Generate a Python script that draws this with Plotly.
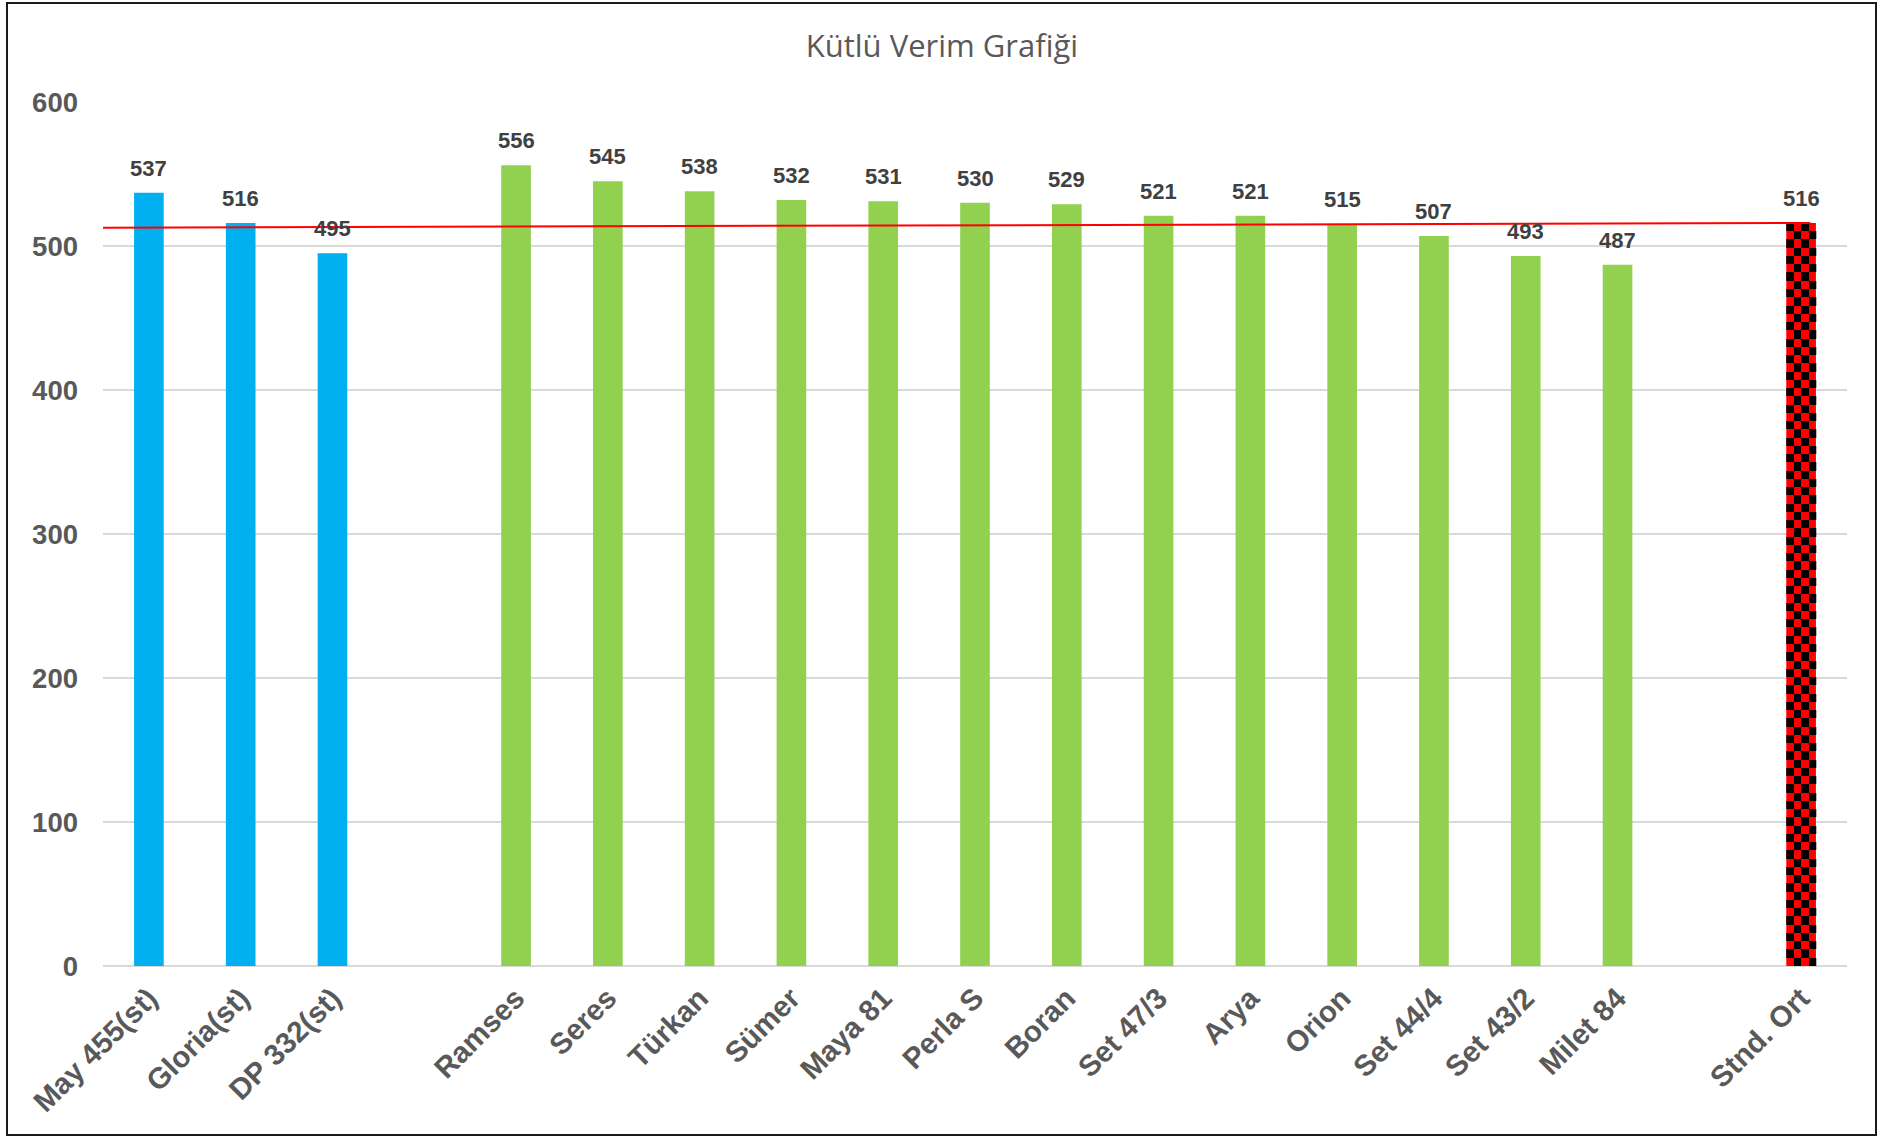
import numpy as np
import plotly.graph_objects as go

# ---------------- data ----------------
categories = ["May 455(st)", "Gloria(st)", "DP 332(st)", " ",
              "Ramses", "Seres", "Türkan", "Sümer", "Maya 81", "Perla S",
              "Boran", "Set 47/3", "Arya", "Orion", "Set 44/4", "Set 43/2",
              "Milet 84", "  ", "Stnd. Ort"]
standard_names = ["May 455(st)", "Gloria(st)", "DP 332(st)"]
standard_values = [537, 516, 495]
variety_names = ["Ramses", "Seres", "Türkan", "Sümer", "Maya 81", "Perla S",
                 "Boran", "Set 47/3", "Arya", "Orion", "Set 44/4", "Set 43/2",
                 "Milet 84"]
variety_values = [556, 545, 538, 532, 531, 530, 529, 521, 521, 515, 507, 493, 487]
average_name = ["Stnd. Ort"]
average_value = [516]
trend_values = [512.7, 516.0]   # red reference line (left end, right end)
y_ticks = [0, 100, 200, 300, 400, 500, 600]

title_text = "Kütlü Verim Grafiği"

# ---------------- styles ----------------
BLUE = "#00B0F0"
GREEN = "#92D050"
RED = "#FF0000"
GRID = "#D9D9D9"
TICK_GRAY = "#595959"
LABEL_GRAY = "#404040"
FONT = "Liberation Sans, Arial, sans-serif"
BARGAP = 0.677

fig = go.Figure()
fig.add_trace(go.Bar(x=standard_names, y=standard_values, marker_color=BLUE,
                     marker_line_width=0, name="Standart"))
fig.add_trace(go.Bar(x=variety_names, y=variety_values, marker_color=GREEN,
                     marker_line_width=0, name="Çeşit"))
fig.add_trace(go.Bar(x=average_name, y=average_value, marker_color=RED,
                     marker_line_width=0, name="Stnd. Ort"))

# checkered overlay for the average bar (black squares over the red bar)
n_cat = len(categories)
avg_idx = categories.index(average_name[0])
bar_w = 1 - BARGAP
ncols = 4
cell_units = 5.75
nrows = int(round(average_value[0] / cell_units))
x_edges = np.linspace(avg_idx - bar_w / 2, avg_idx + bar_w / 2, ncols + 1)
y_edges = np.linspace(average_value[0], 0, nrows + 1)
z = [[(r + c + 1) % 2 for c in range(ncols)] for r in range(nrows)]
fig.add_trace(go.Heatmap(x=x_edges, y=y_edges, z=z, xaxis="x2", yaxis="y",
                         colorscale=[[0, "rgba(0,0,0,0)"], [1, "#000000"]],
                         zmin=0, zmax=1, showscale=False, zsmooth=False,
                         hoverinfo="skip"))

# data labels
all_names = standard_names + variety_names + average_name
all_values = standard_values + variety_values + average_value
for name, val in zip(all_names, all_values):
    fig.add_annotation(x=name, y=val, text=str(val), showarrow=False,
                       yanchor="bottom", yshift=10,
                       font=dict(family=FONT, size=22, color=LABEL_GRAY, weight=700))

# red reference line
fig.add_shape(type="line", xref="x", yref="y",
              x0=-0.5 - 15 / 91.8, x1=avg_idx + 0.1,
              y0=trend_values[0], y1=trend_values[1],
              line=dict(color=RED, width=2))

# outer border
fig.add_shape(type="rect", xref="paper", yref="paper",
              x0=(7 - 103) / 1744, x1=(1876 - 103) / 1744,
              y0=(966 - 1135) / 864, y1=(966 - 3) / 864,
              line=dict(color="#1a1a1a", width=2), fillcolor="rgba(0,0,0,0)",
              layer="above")

fig.update_layout(
    width=1901, height=1137,
    margin=dict(l=103, r=54, t=102, b=171),
    paper_bgcolor="white", plot_bgcolor="white",
    barmode="overlay", bargap=BARGAP,
    showlegend=False,
    title=dict(text=title_text, x=0.4955, xanchor="center",
               y=1 - 46 / 1137, yanchor="middle", yref="container",
               font=dict(family="Open Sans, sans-serif", size=31, color=TICK_GRAY)),
    xaxis=dict(type="category", categoryorder="array", categoryarray=categories,
               range=[-0.5, n_cat - 0.5], tickangle=-45, ticks="",
               showgrid=False, showline=False, zeroline=False,
               ticklabelstandoff=8,
               tickfont=dict(family=FONT, size=29.5, color=TICK_GRAY, weight=700)),
    xaxis2=dict(overlaying="x", range=[-0.5, n_cat - 0.5], visible=False,
                showgrid=False, zeroline=False),
    yaxis=dict(range=[0, 600], tickvals=y_ticks, ticks="",
               showgrid=True, gridcolor=GRID, gridwidth=2,
               zeroline=True, zerolinecolor=GRID, zerolinewidth=2,
               showline=False, ticklabelstandoff=24,
               tickfont=dict(family=FONT, size=27.5, color=TICK_GRAY, weight=700)),
)

fig.write_html("out.html",
               config={"displayModeBar": False},
               post_script="document.body.style.margin='0';document.body.style.overflow='hidden';")
